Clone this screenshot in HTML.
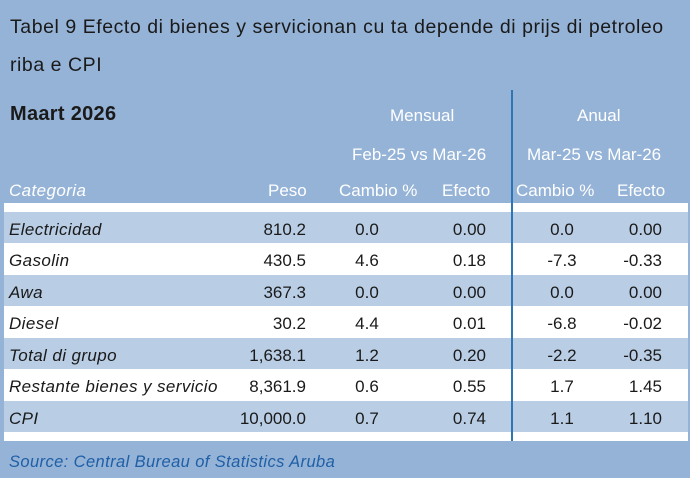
<!DOCTYPE html><html><head><style>
body{margin:0;width:690px;height:478px;background:#95b3d7;position:relative;overflow:hidden;font-family:"Liberation Sans",sans-serif;color:#1a1a1a}
.t{position:absolute;white-space:nowrap;font-size:17px;line-height:20px}
.r{position:absolute;left:4px;width:684px;height:32px}
.i{font-style:italic;letter-spacing:0.4px}
.w{color:#fff}
</style></head><body>
<div class="t" style="left:10px;top:17px;font-size:19.5px;letter-spacing:0.55px">Tabel 9 Efecto di bienes y servicionan cu ta depende di prijs di petroleo</div>
<div class="t" style="left:10px;top:55px;font-size:19.5px;letter-spacing:0.55px">riba e CPI</div>
<div class="t" style="left:10px;top:104px;font-size:20px;font-weight:bold;letter-spacing:0.3px">Maart 2026</div>
<div class="t w" style="left:390px;top:106px">Mensual</div>
<div class="t w" style="left:577px;top:106px">Anual</div>
<div class="t w" style="left:352px;top:145px">Feb-25 vs Mar-26</div>
<div class="t w" style="left:527px;top:145px">Mar-25 vs Mar-26</div>
<div class="t w i" style="left:9px;top:181px">Categoria</div>
<div class="t w" style="left:268px;top:181px">Peso</div>
<div class="t w" style="left:339px;top:181px">Cambio %</div>
<div class="t w" style="left:442px;top:181px">Efecto</div>
<div class="t w" style="left:516px;top:181px">Cambio %</div>
<div class="t w" style="left:617px;top:181px">Efecto</div>
<div class="r" style="top:203px;height:9px;background:#fff"></div>
<div class="r" style="top:212px;height:31px;background:#b9cde5"></div>
<div class="r" style="top:243px;background:#fff"></div>
<div class="r" style="top:275px;height:31px;background:#b9cde5"></div>
<div class="r" style="top:306px;background:#fff"></div>
<div class="r" style="top:338px;height:31px;background:#b9cde5"></div>
<div class="r" style="top:369px;background:#fff"></div>
<div class="r" style="top:401px;height:31px;background:#b9cde5"></div>
<div class="r" style="top:432px;height:9px;background:#fff"></div>
<div style="position:absolute;left:511px;top:90px;width:2px;height:351px;background:#2e75b6"></div>
<div id="rows"></div>
<div class="t i" style="left:9px;top:452px;color:#1f5fa6;font-size:16.5px">Source: Central Bureau of Statistics Aruba</div>
<script>
var d=[["Electricidad","810.2","0.0","0.00","0.0","0.00"],["Gasolin","430.5","4.6","0.18","-7.3","-0.33"],["Awa","367.3","0.0","0.00","0.0","0.00"],["Diesel","30.2","4.4","0.01","-6.8","-0.02"],["Total di grupo","1,638.1","1.2","0.20","-2.2","-0.35"],["Restante bienes y servicio","8,361.9","0.6","0.55","1.7","1.45"],["CPI","10,000.0","0.7","0.74","1.1","1.10"]];
var h="";d.forEach(function(r,k){var y=219.5+k*31.5;
h+='<div class="t i" style="left:9px;top:'+y+'px">'+r[0]+'</div>';
h+='<div class="t" style="right:384px;top:'+y+'px">'+r[1]+'</div>';
h+='<div class="t" style="left:352px;width:30px;text-align:center;top:'+y+'px">'+r[2]+'</div>';
h+='<div class="t" style="right:204px;top:'+y+'px">'+r[3]+'</div>';
h+='<div class="t" style="left:542px;width:40px;text-align:center;top:'+y+'px">'+r[4]+'</div>';
h+='<div class="t" style="right:28px;top:'+y+'px">'+r[5]+'</div>';});
document.getElementById("rows").innerHTML=h;
</script>
</body></html>
